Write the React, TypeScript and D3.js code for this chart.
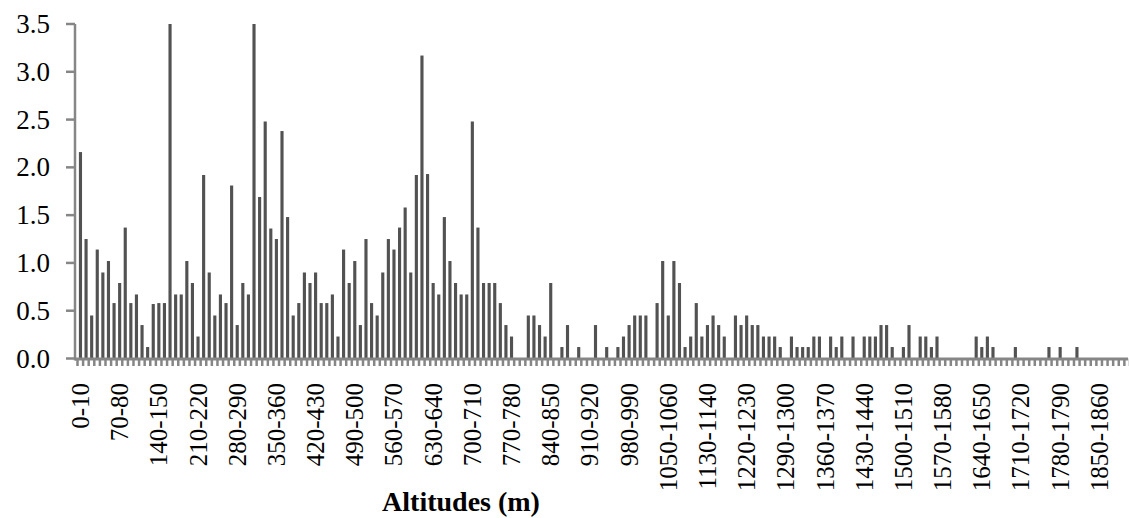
import * as d3 from "d3";

// class lower bounds, 10 m steps; the source table has no 1100, 1160 or 1200 classes
const skipped = [1100, 1160, 1200];
const classStarts = d3.range(0, 1910, 10).filter((a) => !skipped.includes(a));
const categories = classStarts.map((a) => `${a}-${a + 10}`);

// values, one per class
const values = [
  2.16, 1.25, 0.45, 1.14, 0.9, 1.02, 0.58, 0.79, 1.37, 0.58,
  0.67, 0.35, 0.12, 0.57, 0.58, 0.58, 3.5, 0.67, 0.67, 1.02,
  0.79, 0.23, 1.92, 0.9, 0.45, 0.67, 0.58, 1.81, 0.35, 0.79,
  0.67, 3.5, 1.69, 2.48, 1.36, 1.25, 2.38, 1.48, 0.45, 0.58,
  0.9, 0.79, 0.9, 0.58, 0.58, 0.67, 0.23, 1.14, 0.79, 1.02,
  0.35, 1.25, 0.58, 0.45, 0.9, 1.25, 1.14, 1.37, 1.58, 0.9,
  1.92, 3.17, 1.93, 0.79, 0.67, 1.48, 1.02, 0.79, 0.67, 0.67,
  2.48, 1.37, 0.79, 0.79, 0.79, 0.58, 0.35, 0.23, 0, 0,
  0.45, 0.45, 0.35, 0.23, 0.79, 0, 0.12, 0.35, 0, 0.12,
  0, 0, 0.35, 0, 0.12, 0, 0.12, 0.23, 0.35, 0.45,
  0.45, 0.45, 0, 0.58, 1.02, 0.45, 1.02, 0.79, 0.12, 0.23,
  0.58, 0.23, 0.35, 0.45, 0.35, 0.23, 0, 0.45, 0.35, 0.45,
  0.35, 0.35, 0.23, 0.23, 0.23, 0.12, 0, 0.23, 0.12, 0.12,
  0.12, 0.23, 0.23, 0, 0.23, 0.12, 0.23, 0, 0.23, 0,
  0.23, 0.23, 0.23, 0.35, 0.35, 0.12, 0, 0.12, 0.35, 0,
  0.23, 0.23, 0.12, 0.23, 0, 0, 0, 0, 0, 0,
  0.23, 0.12, 0.23, 0.12, 0, 0, 0, 0.12, 0, 0,
  0, 0, 0, 0.12, 0, 0.12, 0, 0, 0.12, 0,
  0, 0, 0, 0, 0, 0, 0, 0,
];

const tickLabels = [
  "0-10", "70-80", "140-150", "210-220", "280-290", "350-360", "420-430",
  "490-500", "560-570", "630-640", "700-710", "770-780", "840-850", "910-920",
  "980-990", "1050-1060", "1130-1140", "1220-1230", "1290-1300", "1360-1370",
  "1430-1440", "1500-1510", "1570-1580", "1640-1650", "1710-1720", "1780-1790",
  "1850-1860",
];

const yTicks = [0, 0.5, 1, 1.5, 2, 2.5, 3, 3.5];

const width = 1129;
const height = 518;
const axisX = 75;
const axisRight = 1128;
const font = "'Liberation Serif', 'Times New Roman', serif";
const axisColor = "#868686";

export default function App() {
  const x = d3
    .scaleBand()
    .domain(categories)
    .range([77.5, 77.5 + categories.length * 5.6])
    .paddingInner(0.44)
    .paddingOuter(0.25);
  const y = d3.scaleLinear().domain([0, 3.5]).range([358.5, 24]);
  const step = x.step();
  const start = x(categories[0])! - step * 0.25;
  const fmt = d3.format(".1f");

  return (
    <svg
      width={width}
      height={height}
      style={{ position: "absolute", left: 0, top: 0, background: "#fff" }}
      fontFamily={font}
    >
      {/* bars */}
      <g fill="#525252">
        {categories.map((c, i) =>
          values[i] > 0 ? (
            <rect key={c} x={x(c)} y={y(values[i])} width={x.bandwidth()} height={y(0) - y(values[i])} />
          ) : null
        )}
      </g>

      {/* y axis */}
      <line x1={axisX} x2={axisX} y1={y(3.5)} y2={y(0) + 2} stroke={axisColor} strokeWidth={2.5} />
      {yTicks.map((t) => (
        <g key={t}>
          <line x1={66} x2={axisX} y1={y(t)} y2={y(t)} stroke={axisColor} strokeWidth={2.5} />
          <text x={50} y={y(t)} textAnchor="end" dominantBaseline="central" fontSize={27}>
            {fmt(t)}
          </text>
        </g>
      ))}

      {/* x axis */}
      <line x1={axisX} x2={axisRight} y1={y(0) + 0.5} y2={y(0) + 0.5} stroke={axisColor} strokeWidth={3} />
      {d3.range(categories.length + 1).map((k) => (
        <line
          key={k}
          x1={start + k * step}
          x2={start + k * step}
          y1={y(0)}
          y2={y(0) + 7.5}
          stroke={axisColor}
          strokeWidth={2.5}
        />
      ))}
      {tickLabels.map((t) => {
        const cx = x(t)! + x.bandwidth() / 2;
        return (
          <text
            key={t}
            transform={`translate(${cx},383) rotate(-90)`}
            textAnchor="end"
            dominantBaseline="central"
            fontSize={25}
          >
            {t}
          </text>
        );
      })}

      <text x={461} y={511} textAnchor="middle" fontSize={28} fontWeight="bold">
        Altitudes (m)
      </text>
    </svg>
  );
}
